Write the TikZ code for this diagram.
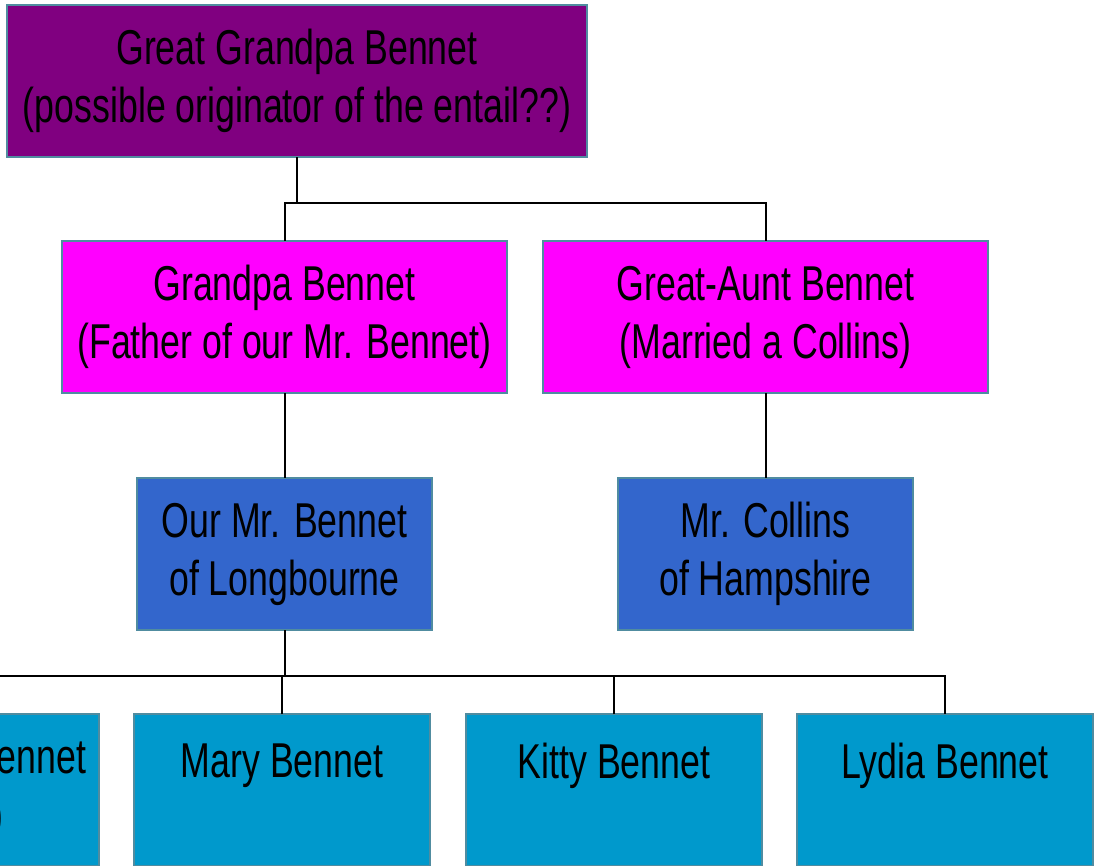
\documentclass[tikz,border=0pt]{standalone}
\usepackage{fontspec}
\setmainfont{Liberation Sans}[FakeStretch=0.73]
\usepackage{tikz}

\begin{document}
\begin{tikzpicture}[x=0.75pt,y=0.75pt,yscale=-1,xscale=1,
  box/.style={draw={rgb, 255:red, 80; green, 140; blue, 160 },line width=1.5pt,inner sep=0pt,outer sep=0pt,
    minimum height=114pt,align=center,font=\fontsize{36.7}{43.5}\selectfont},
  link/.style={line width=1.5pt}]
\useasboundingbox (0,0) rectangle (1099,865);

%Shape: Rectangle [id:top]
\node [box,minimum width=435pt,fill={rgb, 255:red, 128; green, 0; blue, 128 }] (greatgrandpa) at (297,81) {Great Grandpa Bennet\\(possible originator of the entail??)};
%Shape: Rectangle [id:row2]
\node [box,minimum width=333.75pt,fill={rgb, 255:red, 255; green, 0; blue, 255 }] (grandpa) at (284.5,317) {Grandpa Bennet\\(Father of our Mr. Bennet)};
\node [box,minimum width=333.75pt,fill={rgb, 255:red, 255; green, 0; blue, 255 }] (greataunt) at (765.5,317) {Great-Aunt Bennet\\(Married a Collins)};
%Shape: Rectangle [id:row3]
\node [box,minimum width=221.25pt,fill={rgb, 255:red, 51; green, 102; blue, 204 }] (mrbennet) at (284.5,554) {Our Mr. Bennet\\of Longbourne};
\node [box,minimum width=221.25pt,fill={rgb, 255:red, 51; green, 102; blue, 204 }] (mrcollins) at (765.5,554) {Mr. Collins\\of Hampshire};
%Shape: Rectangle [id:row4]
\node [box,minimum width=222pt,fill={rgb, 255:red, 0; green, 153; blue, 204 }] (lizzy) at (-49,790) {Elizabeth Bennet\\(Lizzy)};
\node [box,minimum width=222pt,fill={rgb, 255:red, 0; green, 153; blue, 204 }] (mary) at (282,790) {Mary Bennet\\~};
\node [box,minimum width=222pt,fill={rgb, 255:red, 0; green, 153; blue, 204 }] (kitty) at (614,790) {Kitty Bennet\\~};
\node [box,minimum width=222pt,fill={rgb, 255:red, 0; green, 153; blue, 204 }] (lydia) at (945,790) {Lydia Bennet\\~};

%Straight Lines [id:bars]
\coordinate (bartop) at (0,203);
\coordinate (barkids) at (0,676);
\draw [link] (greatgrandpa.south) -- (greatgrandpa.south |- bartop);
\draw [link] (grandpa.north) |- (greataunt.north |- bartop) -- (greataunt.north);
\draw [link] (grandpa.south) -- (mrbennet.north);
\draw [link] (greataunt.south) -- (mrcollins.north);
\draw [link] (mrbennet.south) -- (mrbennet.south |- barkids);
\draw [link] (lizzy.north) |- (lydia.north |- barkids) -- (lydia.north);
\draw [link] (mary.north) -- (mary.north |- barkids);
\draw [link] (kitty.north) -- (kitty.north |- barkids);

\end{tikzpicture}
\end{document}
